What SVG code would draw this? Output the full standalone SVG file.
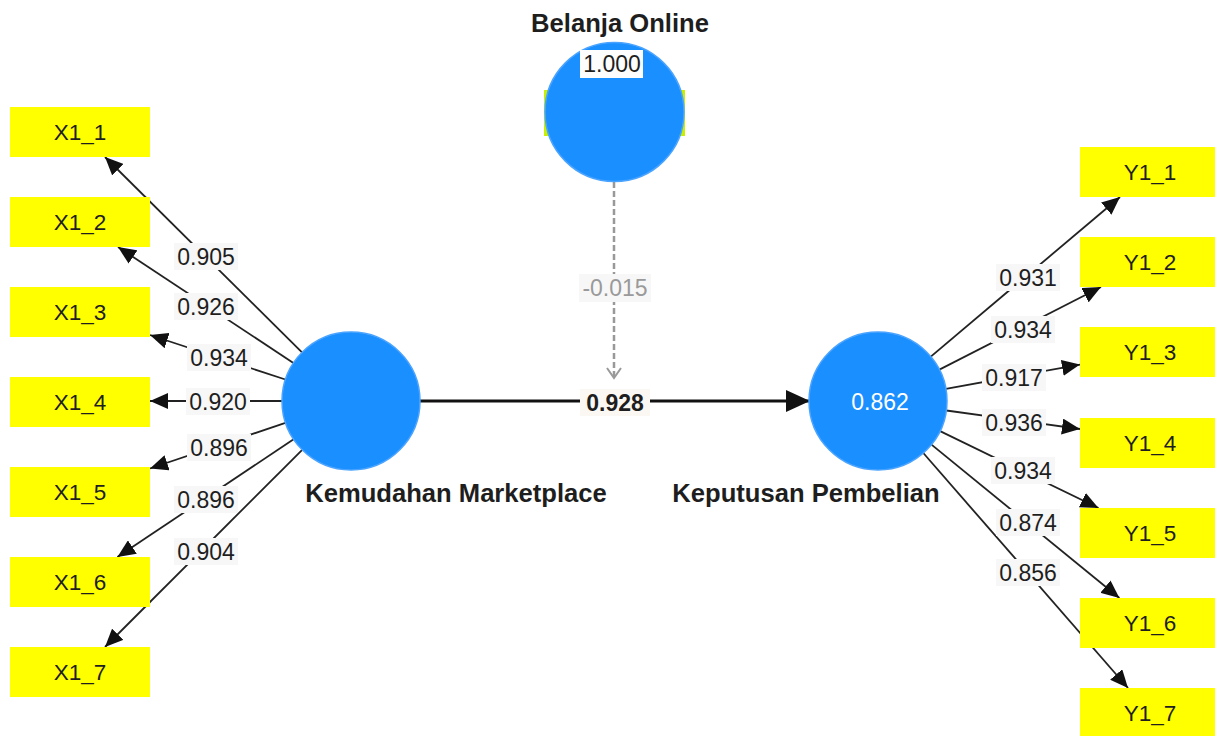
<svg xmlns="http://www.w3.org/2000/svg" width="1215" height="736" viewBox="0 0 1215 736">
<style>
.box{fill:#ffff00}
.lv{fill:#1a8fff;stroke:#4aa3ff;stroke-width:1.5}
.bt{font-family:"Liberation Sans",Arial,sans-serif;font-size:22.5px;fill:#1e1e1e;text-anchor:middle}
.title{font-family:"Liberation Sans",Arial,sans-serif;font-size:25.6px;font-weight:bold;fill:#1e1e1e;text-anchor:middle}
.num{font-family:"Liberation Sans",Arial,sans-serif;font-size:23px;fill:#1e1e1e;text-anchor:middle}
.lbg{fill:#f7f7f7}
.ld{stroke:#222;stroke-width:1.8;fill:none}
</style>
<defs>
<marker id="ah" markerWidth="18" markerHeight="16" refX="18" refY="8" orient="auto" markerUnits="userSpaceOnUse">
<path d="M0,0 L18,8 L0,16 Z" fill="#111"/>
</marker>
<marker id="ahb" markerWidth="24" markerHeight="22" refX="24" refY="11" orient="auto" markerUnits="userSpaceOnUse">
<path d="M0,0 L24,11 L0,22 Z" fill="#111"/>
</marker>
</defs>

<g id="connectors">
<line class="ld" x1="302" y1="352.4" x2="105" y2="157" marker-end="url(#ah)"/>
<line class="ld" x1="293.4" y1="363" x2="118" y2="247" marker-end="url(#ah)"/>
<line class="ld" x1="285.4" y1="379.5" x2="150" y2="335" marker-end="url(#ah)"/>
<line class="ld" x1="282" y1="401" x2="150" y2="401" marker-end="url(#ah)"/>
<line class="ld" x1="285.4" y1="422.9" x2="150" y2="468.5" marker-end="url(#ah)"/>
<line class="ld" x1="293.6" y1="439.3" x2="117.4" y2="557" marker-end="url(#ah)"/>
<line class="ld" x1="302.2" y1="449.8" x2="105" y2="647" marker-end="url(#ah)"/>

<line class="ld" x1="930.8" y1="356.6" x2="1120" y2="197" marker-end="url(#ah)"/>
<line class="ld" x1="939.4" y1="369.6" x2="1101" y2="287" marker-end="url(#ah)"/>
<line class="ld" x1="945.9" y1="388.8" x2="1080" y2="364.6" marker-end="url(#ah)"/>
<line class="ld" x1="946.4" y1="410.5" x2="1080" y2="429" marker-end="url(#ah)"/>
<line class="ld" x1="940.1" y1="431.1" x2="1098.5" y2="508" marker-end="url(#ah)"/>
<line class="ld" x1="931.5" y1="444.6" x2="1119.4" y2="598" marker-end="url(#ah)"/>
<line class="ld" x1="923.3" y1="453" x2="1128" y2="688" marker-end="url(#ah)"/>

<line x1="420" y1="401" x2="810" y2="401" stroke="#111" stroke-width="3.2" marker-end="url(#ahb)"/>
<line x1="614" y1="182" x2="614" y2="377" stroke="#999" stroke-width="2.5" stroke-dasharray="6,3"/>
<polyline points="607,368 614,378 621,368" fill="none" stroke="#999" stroke-width="2"/>

<g id="edge-labels">
<rect class="lbg" x="174" y="243" width="64" height="27"/><text class="num" x="206" y="265">0.905</text>
<rect class="lbg" x="174" y="293" width="64" height="27"/><text class="num" x="206" y="315">0.926</text>
<rect class="lbg" x="187" y="344" width="64" height="27"/><text class="num" x="219" y="366">0.934</text>
<rect class="lbg" x="186" y="388" width="64" height="27"/><text class="num" x="218" y="410">0.920</text>
<rect class="lbg" x="187" y="434" width="64" height="27"/><text class="num" x="219" y="456">0.896</text>
<rect class="lbg" x="174" y="486" width="64" height="27"/><text class="num" x="206" y="508">0.896</text>
<rect class="lbg" x="174" y="538" width="64" height="27"/><text class="num" x="206" y="560">0.904</text>

<rect class="lbg" x="996" y="264" width="64" height="27"/><text class="num" x="1028" y="286">0.931</text>
<rect class="lbg" x="991" y="316" width="64" height="27"/><text class="num" x="1023" y="338">0.934</text>
<rect class="lbg" x="982" y="364" width="64" height="27"/><text class="num" x="1014" y="386">0.917</text>
<rect class="lbg" x="982" y="409" width="64" height="27"/><text class="num" x="1014" y="431">0.936</text>
<rect class="lbg" x="991" y="457" width="64" height="27"/><text class="num" x="1023" y="479">0.934</text>
<rect class="lbg" x="996" y="509" width="64" height="27"/><text class="num" x="1028" y="531">0.874</text>
<rect class="lbg" x="996" y="559" width="64" height="27"/><text class="num" x="1028" y="581">0.856</text>

<rect class="lbg" x="579" y="274" width="72" height="28"/><text class="num" x="615" y="296" style="fill:#9a9a9a">-0.015</text>
<rect x="580" y="389" width="70" height="27" fill="#fbf8f4"/><text class="num" x="615" y="411" font-weight="bold">0.928</text>
</g>
</g>

<g id="node-x1_1"><rect class="box" x="10" y="107" width="140" height="50"/><text class="bt" x="80" y="140">X1_1</text></g>
<g id="node-x1_2"><rect class="box" x="10" y="197" width="140" height="50"/><text class="bt" x="80" y="230">X1_2</text></g>
<g id="node-x1_3"><rect class="box" x="10" y="287" width="140" height="50"/><text class="bt" x="80" y="320">X1_3</text></g>
<g id="node-x1_4"><rect class="box" x="10" y="377" width="140" height="50"/><text class="bt" x="80" y="410">X1_4</text></g>
<g id="node-x1_5"><rect class="box" x="10" y="467" width="140" height="50"/><text class="bt" x="80" y="500">X1_5</text></g>
<g id="node-x1_6"><rect class="box" x="10" y="557" width="140" height="50"/><text class="bt" x="80" y="590">X1_6</text></g>
<g id="node-x1_7"><rect class="box" x="10" y="647" width="140" height="50"/><text class="bt" x="80" y="680">X1_7</text></g>

<g id="node-y1_1"><rect class="box" x="1080" y="147" width="140" height="50"/><text class="bt" x="1150" y="180">Y1_1</text></g>
<g id="node-y1_2"><rect class="box" x="1080" y="237" width="140" height="50"/><text class="bt" x="1150" y="270">Y1_2</text></g>
<g id="node-y1_3"><rect class="box" x="1080" y="327" width="140" height="50"/><text class="bt" x="1150" y="360">Y1_3</text></g>
<g id="node-y1_4"><rect class="box" x="1080" y="418" width="140" height="50"/><text class="bt" x="1150" y="451">Y1_4</text></g>
<g id="node-y1_5"><rect class="box" x="1080" y="508" width="140" height="50"/><text class="bt" x="1150" y="541">Y1_5</text></g>
<g id="node-y1_6"><rect class="box" x="1080" y="598" width="140" height="50"/><text class="bt" x="1150" y="631">Y1_6</text></g>
<g id="node-y1_7"><rect class="box" x="1080" y="688" width="140" height="50"/><text class="bt" x="1150" y="721">Y1_7</text></g>

<g id="node-belanja-online">
<rect x="544" y="90" width="141" height="46" fill="#c8f000"/>
<circle class="lv" cx="614.5" cy="112" r="69.5"/>
<rect x="580" y="50" width="63" height="28" fill="#fdfdfd"/>
<text class="num" x="612" y="72">1.000</text>
<text class="title" x="620" y="32">Belanja Online</text>
</g>

<g id="node-kemudahan-marketplace">
<circle class="lv" cx="351" cy="401" r="69"/>
<text class="title" x="456" y="502">Kemudahan Marketplace</text>
</g>

<g id="node-keputusan-pembelian">
<circle class="lv" cx="878" cy="401" r="69"/>
<text class="num" x="880" y="410" style="fill:#fff">0.862</text>
<text class="title" x="806" y="502">Keputusan Pembelian</text>
</g>
</svg>
